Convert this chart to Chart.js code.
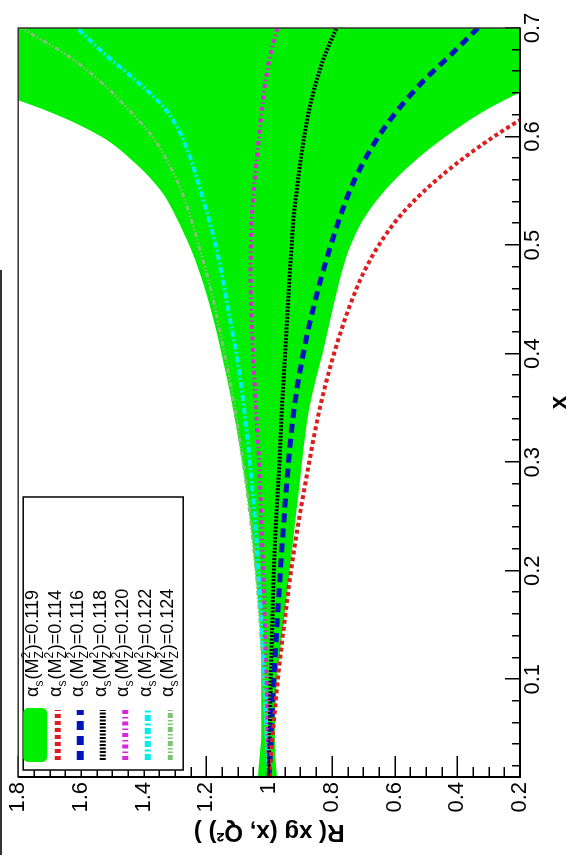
<!DOCTYPE html>
<html>
<head>
<meta charset="utf-8">
<script src="https://cdn.jsdelivr.net/npm/chart.js@4.4.1/dist/chart.umd.min.js"></script>
<style>
  html, body { margin: 0; padding: 0; background: #fff; }
  #wrap { position: relative; width: 570px; height: 861px; overflow: hidden; }
  /* the figure is drawn upright and then turned a quarter turn, like the scan */
  #plot { position: absolute; left: 0; top: 0; width: 861px; height: 570px;
          transform-origin: 0 0; transform: translate(0, 861px) rotate(-90deg); }
  #edge { position: absolute; left: 0; top: 270px; width: 2px; height: 585px; background: #333; }
</style>
</head>
<body>
<div id="wrap">
  <div id="plot"><canvas id="myChart" width="861" height="570"></canvas></div>
  <div id="edge"></div>
</div>
<script>
// x values the curves were read at
const xValues = [0.01, 0.03, 0.05, 0.1, 0.15, 0.2, 0.25, 0.3, 0.325, 0.35, 0.375, 0.4, 0.425, 0.45, 0.475, 0.5, 0.525, 0.55, 0.575, 0.6, 0.625, 0.65, 0.675, 0.7];

// green band, alpha_s(MZ^2)=0.119
const bandUpper = [1.035, 1.03, 1.025, 1.025, 1.03, 1.044, 1.062, 1.086, 1.1, 1.116, 1.133, 1.152, 1.172, 1.195, 1.222, 1.255, 1.295, 1.345, 1.425, 1.535, 1.72, 1.98, 2.3, 2.7];
const bandLower = [0.975, 0.98, 0.982, 0.975, 0.955, 0.935, 0.915, 0.895, 0.885, 0.872, 0.852, 0.83, 0.81, 0.79, 0.768, 0.74, 0.697, 0.632, 0.545, 0.437, 0.305, 0.13, -0.08, -0.33];

const r114 = [1.0, 0.994, 0.988, 0.972, 0.952, 0.93, 0.903, 0.872, 0.856, 0.838, 0.817, 0.793, 0.766, 0.735, 0.698, 0.65, 0.588, 0.505, 0.403, 0.283, 0.143, -0.02, -0.21, -0.42];
const r116 = [1.0, 0.996, 0.993, 0.985, 0.975, 0.964, 0.952, 0.938, 0.93, 0.92, 0.907, 0.891, 0.873, 0.852, 0.829, 0.803, 0.775, 0.743, 0.702, 0.651, 0.588, 0.512, 0.422, 0.334];
const r118 = [1.0, 1.0, 0.998, 0.995, 0.99, 0.985, 0.977, 0.967, 0.963, 0.959, 0.954, 0.949, 0.944, 0.939, 0.934, 0.928, 0.922, 0.912, 0.901, 0.888, 0.872, 0.85, 0.822, 0.785];
const r120 = [1.0, 1.002, 1.004, 1.008, 1.013, 1.019, 1.025, 1.032, 1.037, 1.042, 1.047, 1.051, 1.055, 1.058, 1.059, 1.058, 1.055, 1.049, 1.041, 1.032, 1.023, 1.012, 0.996, 0.974];
const r122 = [1.0, 1.004, 1.008, 1.015, 1.024, 1.034, 1.046, 1.061, 1.07, 1.08, 1.091, 1.104, 1.12, 1.136, 1.152, 1.17, 1.193, 1.218, 1.245, 1.278, 1.33, 1.418, 1.52, 1.612];
const r124 = [1.0, 1.005, 1.01, 1.018, 1.028, 1.042, 1.06, 1.083, 1.096, 1.11, 1.125, 1.142, 1.16, 1.178, 1.2, 1.225, 1.25, 1.28, 1.32, 1.372, 1.448, 1.535, 1.645, 1.79];

const alphaValues = ['0.119', '0.114', '0.116', '0.118', '0.120', '0.122', '0.124'];
const xTickValues = [0.1, 0.2, 0.3, 0.4, 0.5, 0.6, 0.7];
const yTickValues = [0.2, 0.4, 0.6, 0.8, 1, 1.2, 1.4, 1.6, 1.8];

const FONT = '"Liberation Sans", Arial, sans-serif';

const pts = (arr) => xValues.map((x, i) => ({ x: x, y: arr[i] }));

const line = function (arr, color, width, dash, order) {
  return {
    data: pts(arr),
    borderColor: color,
    borderWidth: width,
    borderDash: dash,
    borderCapStyle: 'butt',
    pointRadius: 0,
    fill: false,
    clip: 0,
    order: order,
    cubicInterpolationMode: 'monotone',
  };
};

const datasets = [
  {
    data: pts(bandUpper),
    borderWidth: 0,
    borderColor: 'rgba(0,0,0,0)',
    backgroundColor: 'rgb(0, 238, 0)',
    fill: '+1',
    pointRadius: 0,
    clip: 0,
    order: 10,
    cubicInterpolationMode: 'monotone',
  },
  {
    data: pts(bandLower),
    borderWidth: 0,
    borderColor: 'rgba(0,0,0,0)',
    fill: false,
    pointRadius: 0,
    clip: 0,
    order: 10,
    cubicInterpolationMode: 'monotone',
  },
  line(r114, 'rgb(222, 30, 30)', 4, [4, 3], 1),
  line(r116, 'rgb(0, 20, 190)', 5, [9, 6], 2),
  line(r118, 'rgb(0, 0, 0)', 4, [2, 1.5], 3),
  line(r120, 'rgb(215, 40, 215)', 4, [4, 3, 1.5, 3], 4),
  line(r122, 'rgb(0, 238, 238)', 4, [6, 2.5, 2, 2.5], 5),
  line(r124, 'rgb(125, 195, 115)', 3, [5, 2, 1.5, 2, 1.5, 2], 6),
];

// legend in the upper left of the plot, drawn by hand for the sub/superscripts
const drawLegend = function (chart) {
  const { ctx, chartArea: a } = chart;
  const bx = a.left + 7, by = a.top + 5, bw = 273, bh = 160;
  ctx.save();
  ctx.fillStyle = '#fff';
  ctx.fillRect(bx, by, bw, bh);
  ctx.strokeStyle = '#000';
  ctx.lineWidth = 1.5;
  ctx.strokeRect(bx, by, bw, bh);

  alphaValues.forEach((val, i) => {
    const cy = by + 12 + 22.5 * i;
    if (i === 0) {
      ctx.fillStyle = datasets[0].backgroundColor;
      ctx.beginPath();
      ctx.roundRect(bx + 8, cy - 12, 54, 24, 5);
      ctx.fill();
    } else {
      const ds = datasets[i + 1];
      ctx.strokeStyle = ds.borderColor;
      ctx.lineWidth = ds.borderWidth + 2;
      ctx.setLineDash(ds.borderDash);
      ctx.beginPath();
      ctx.moveTo(bx + 10, cy);
      ctx.lineTo(bx + 60, cy);
      ctx.stroke();
      ctx.setLineDash([]);
    }
    // alpha_s(M_Z^2)=value
    let tx = bx + 73;
    const ty = cy + 3;
    ctx.fillStyle = '#000';
    ctx.textBaseline = 'alphabetic';
    ctx.textAlign = 'left';
    ctx.font = '18px ' + FONT;
    ctx.fillText('α', tx, ty);
    tx += ctx.measureText('α').width;
    ctx.font = '12px ' + FONT;
    ctx.fillText('s', tx, ty + 5);
    tx += ctx.measureText('s').width + 1;
    ctx.font = '18px ' + FONT;
    ctx.fillText('(M', tx, ty);
    tx += ctx.measureText('(M').width;
    ctx.font = '12px ' + FONT;
    ctx.fillText('Z', tx, ty + 5);
    ctx.fillText('2', tx, ty - 8);
    tx += Math.max(ctx.measureText('Z').width, ctx.measureText('2').width) + 1;
    ctx.font = '18px ' + FONT;
    ctx.fillText(')=' + val, tx, ty);
  });
  ctx.restore();
};

// ticks point into the plot, so they are drawn here
const innerTicks = {
  id: 'innerTicks',
  afterDatasetsDraw(chart) {
    const { ctx, chartArea: a, scales } = chart;
    ctx.save();
    ctx.strokeStyle = '#000';
    ctx.lineWidth = 1.5;
    ctx.beginPath();
    for (let i = 4; i <= 36; i++) {
      const py = Math.round(scales.y.getPixelForValue(i * 0.05)) + 0.25;
      const len = i % 4 === 0 ? 21 : 10;
      ctx.moveTo(a.left, py);
      ctx.lineTo(a.left + len, py);
    }
    for (let i = 1; i <= 35; i++) {
      const px = Math.round(scales.x.getPixelForValue(i * 0.02)) + 0.25;
      const len = i % 5 === 0 ? 15 : 8;
      ctx.moveTo(px, a.bottom);
      ctx.lineTo(px, a.bottom - len);
    }
    ctx.stroke();
    ctx.restore();
    drawLegend(chart);
  },
  afterDraw(chart) {
    const { ctx, chartArea: a } = chart;
    ctx.save();
    ctx.strokeStyle = '#333';
    ctx.lineWidth = 1.5;
    ctx.strokeRect(a.left, a.top, a.right - a.left, a.bottom - a.top);
    ctx.strokeStyle = '#000';
    ctx.lineWidth = 2;
    ctx.beginPath();
    ctx.moveTo(a.left, a.top);
    ctx.lineTo(a.left, a.bottom);
    ctx.lineTo(a.right, a.bottom);
    ctx.stroke();
    ctx.restore();
  },
};

const fmt = (v) => String(+Number(v).toFixed(2));

const chart = new Chart(document.getElementById('myChart'), {
  type: 'line',
  data: { datasets: datasets },
  plugins: [innerTicks],
  options: {
    responsive: false,
    animation: false,
    devicePixelRatio: 1,
    layout: { padding: { left: 0, right: 28, top: 18, bottom: 0 } },
    plugins: {
      legend: { display: false },
      tooltip: { enabled: false },
      filler: { drawTime: 'beforeDatasetsDraw' },
    },
    scales: {
      x: {
        type: 'linear',
        min: 0.01,
        max: 0.7,
        afterBuildTicks: (s) => { s.ticks = xTickValues.map((v) => ({ value: v })); },
        afterFit: (s) => { s.height = 50; },
        grid: { display: false, drawTicks: false, tickLength: 0 },
        border: { display: false },
        ticks: { padding: 0, color: '#000', autoSkip: false, maxRotation: 0, font: { family: FONT, size: 22 }, callback: fmt },
        title: { display: true, text: 'x', color: '#000', font: { family: FONT, size: 24, weight: 'bold', lineHeight: 1 }, padding: { top: 0, bottom: -1 } },
      },
      y: {
        type: 'linear',
        min: 0.2,
        max: 1.8,
        afterBuildTicks: (s) => { s.ticks = yTickValues.map((v) => ({ value: v })); },
        afterFit: (s) => { s.width = 84; },
        grid: { display: false, drawTicks: false, tickLength: 0 },
        border: { display: false },
        ticks: { padding: 5, color: '#000', autoSkip: false, font: { family: FONT, size: 22 }, callback: fmt },
        title: { display: true, text: 'R( xg (x, Q²) )', color: '#000', font: { family: FONT, size: 24, weight: 'bold', lineHeight: 1 }, padding: { top: 17, bottom: 0 } },
      },
    },
  },
});
</script>
</body>
</html>
